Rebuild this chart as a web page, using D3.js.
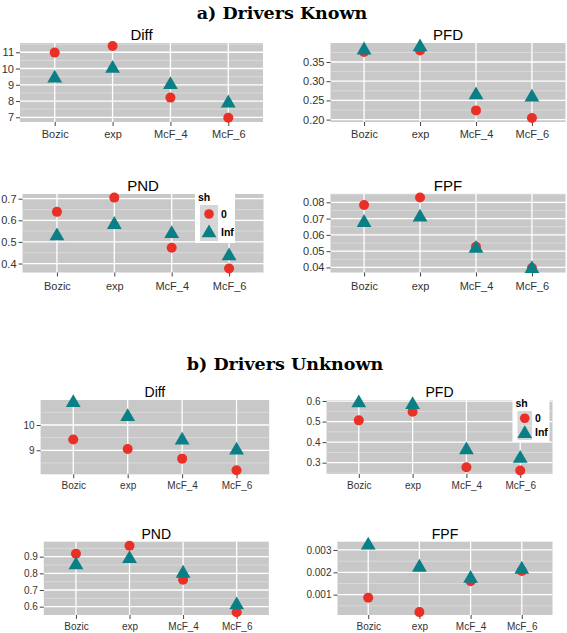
<!DOCTYPE html>
<html><head><meta charset="utf-8">
<script src="https://cdn.jsdelivr.net/npm/d3@7/dist/d3.min.js"></script>
<style>body{margin:0;background:#fff}svg{display:block}</style>
</head><body>
<svg id="c" width="567" height="633"></svg>
<script>
// ---- data ----
const categories = ["Bozic", "exp", "McF_4", "McF_6"];
const seriesNames = ["0", "Inf"];

const knownDiff0   = [10.98, 11.39, 8.21, 6.97];
const knownDiffInf = [9.40, 10.00, 9.00, 7.87];
const knownPFD0    = [0.376, 0.380, 0.224, 0.204];
const knownPFDInf  = [0.381, 0.389, 0.264, 0.258];
const knownPND0    = [0.639, 0.705, 0.473, 0.377];
const knownPNDInf  = [0.527, 0.580, 0.538, 0.435];
const knownFPF0    = [0.0783, 0.0829, 0.0527, 0.0396];
const knownFPFInf  = [0.0675, 0.0708, 0.0516, 0.0392];

const unkDiff0   = [9.43, 9.05, 8.67, 8.21];
const unkDiffInf = [10.88, 10.33, 9.40, 9.00];
const unkPFD0    = [0.506, 0.548, 0.278, 0.262];
const unkPFDInf  = [0.590, 0.582, 0.362, 0.320];
const unkPND0    = [0.918, 0.966, 0.762, 0.566];
const unkPNDInf  = [0.850, 0.888, 0.800, 0.610];
const unkFPF0    = [0.00086, 0.00022, 0.00160, 0.00206];
const unkFPFInf  = [0.00321, 0.00222, 0.00172, 0.00213];

const ticksDiffA = [7, 8, 9, 10, 11];
const ticksPFDA  = [0.20, 0.25, 0.30, 0.35];
const ticksPNDA  = [0.4, 0.5, 0.6, 0.7];
const ticksFPFA  = [0.04, 0.05, 0.06, 0.07, 0.08];
const ticksDiffB = [9, 10];
const ticksPFDB  = [0.3, 0.4, 0.5, 0.6];
const ticksPNDB  = [0.6, 0.7, 0.8, 0.9];
const ticksFPFB  = [0.001, 0.002, 0.003];

// ---- layout / styling ----
const RED = "#ea2f27", TEAL = "#0b7f86";
const panels = [
  {title:"Diff", s0:knownDiff0, s1:knownDiffInf, ticks:ticksDiffA, fmt:d3.format("d"),   dom:[6.71, 11.57], x:[20, 263], y:[43, 122], fs:11, tfs:15, tb:40,  lb:138},
  {title:"PFD",  s0:knownPFD0,  s1:knownPFDInf,  ticks:ticksPFDA,  fmt:d3.format(".2f"), dom:[0.1938, 0.3995], x:[330.5, 565.5], y:[43, 122], fs:11, tfs:15, tb:40, lb:138},
  {title:"PND",  s0:knownPND0,  s1:knownPNDInf,  ticks:ticksPNDA,  fmt:d3.format(".1f"), dom:[0.3585, 0.7217], x:[22.5, 263.5], y:[194, 272.5], fs:11, tfs:15, tb:191, lb:290, legend:{x:195, y:191, w:40, h:52}},
  {title:"FPF",  s0:knownFPF0,  s1:knownFPFInf,  ticks:ticksFPFA,  fmt:d3.format(".2f"), dom:[0.0369, 0.0851], x:[330.5, 565.5], y:[194, 272.5], fs:11, tfs:15, tb:191, lb:290},
  {title:"Diff", s0:unkDiff0,   s1:unkDiffInf,   ticks:ticksDiffB, fmt:d3.format("d"),   dom:[8.05, 10.99], x:[40.6, 269.2], y:[400, 474.3], fs:10, tfs:14, tb:397, lb:489},
  {title:"PFD",  s0:unkPFD0,    s1:unkPFDInf,    ticks:ticksPFDB,  fmt:d3.format(".1f"), dom:[0.245, 0.605], x:[326.5, 552.5], y:[400, 474], fs:10, tfs:14, tb:397, lb:489, legend:{x:512.5, y:397, w:37, h:45}},
  {title:"PND",  s0:unkPND0,    s1:unkPNDInf,    ticks:ticksPNDB,  fmt:d3.format(".1f"), dom:[0.55, 0.99], x:[43.8, 268.8], y:[541.7, 615], fs:10, tfs:14, tb:539, lb:630},
  {title:"FPF",  s0:unkFPF0,    s1:unkFPFInf,    ticks:ticksFPFB,  fmt:d3.format(".3f"), dom:[0.00009, 0.00337], x:[337.5, 552.5], y:[541.7, 615], fs:10, tfs:14, tb:539, lb:630}
];

const svg = d3.select("#c");
const SANS = "'Liberation Sans', Arial, sans-serif";

svg.append("text").attr("x", 282).attr("y", 19).attr("text-anchor", "middle")
  .style("font-family", "'DejaVu Serif', serif").style("font-weight", "bold").style("font-size", "17.5px")
  .text("a) Drivers Known");
svg.append("text").attr("x", 285).attr("y", 370).attr("text-anchor", "middle")
  .style("font-family", "'DejaVu Serif', serif").style("font-weight", "bold").style("font-size", "17.5px")
  .text("b) Drivers Unknown");

const tri = d3.symbol().type(d3.symbolTriangle).size(95);

panels.forEach(p => {
  const g = svg.append("g");
  const x = d3.scalePoint().domain(categories).range(p.x).padding(0.6);
  const y = d3.scaleLinear().domain(p.dom).range([p.y[1], p.y[0]]);
  const W = p.x[1] - p.x[0], H = p.y[1] - p.y[0];

  g.append("rect").attr("x", p.x[0]).attr("y", p.y[0]).attr("width", W).attr("height", H).attr("fill", "#c8c8c8");

  // minor grid
  const step = p.ticks[1] - p.ticks[0];
  const minors = [];
  for (let i = -1; i < p.ticks.length; i++) {
    const v = p.ticks[0] + (i + 0.5) * step;
    if (v > p.dom[0] && v < p.dom[1]) minors.push(v);
  }
  g.selectAll(".mn").data(minors).join("line")
    .attr("x1", p.x[0]).attr("x2", p.x[1]).attr("y1", d => y(d)).attr("y2", d => y(d))
    .attr("stroke", "#dedede").attr("stroke-width", 0.8);
  // major grid
  g.selectAll(".mj").data(p.ticks).join("line")
    .attr("x1", p.x[0]).attr("x2", p.x[1]).attr("y1", d => y(d)).attr("y2", d => y(d))
    .attr("stroke", "#fff").attr("stroke-width", 1.3);
  g.selectAll(".vg").data(categories).join("line")
    .attr("x1", d => x(d)).attr("x2", d => x(d)).attr("y1", p.y[0]).attr("y2", p.y[1])
    .attr("stroke", "#fff").attr("stroke-width", 1.3);

  // axes
  const ya = g.append("g").attr("transform", `translate(${p.x[0]},0)`)
    .call(d3.axisLeft(y).tickValues(p.ticks).tickFormat(p.fmt).tickSize(4).tickPadding(2));
  const xa = g.append("g").attr("transform", `translate(0,${p.y[1]})`)
    .call(d3.axisBottom(x).tickSize(4).tickPadding(p.lb - p.y[1] - 4 - p.fs * 0.72));
  [ya, xa].forEach(a => {
    a.select(".domain").remove();
    a.selectAll("line").attr("stroke", "#444");
    a.selectAll("text").attr("fill", "#333").style("font-family", SANS).style("font-size", p.fs + "px");
  });
  xa.selectAll("text").attr("dy", "0.72em");

  g.append("text").attr("x", (p.x[0] + p.x[1]) / 2).attr("y", p.tb).attr("text-anchor", "middle")
    .style("font-family", SANS).style("font-size", p.tfs + "px").attr("fill", "#000").text(p.title);

  const pts = g.append("g");
  pts.selectAll(".c").data(p.s0).join("circle")
    .attr("cx", (d, i) => x(categories[i])).attr("cy", d => y(d)).attr("r", 5).attr("fill", RED);
  pts.selectAll(".t").data(p.s1).join("path")
    .attr("d", tri).attr("transform", (d, i) => `translate(${x(categories[i])},${y(d)})`).attr("fill", TEAL);

  if (p.legend) {
    const L = p.legend;
    const lg = svg.append("g").attr("transform", `translate(${L.x},${L.y})`);
    lg.append("rect").attr("width", L.w).attr("height", L.h).attr("fill", "#fff");
    lg.append("text").attr("x", 3).attr("y", 10).style("font-family", SANS).style("font-weight", "bold")
      .style("font-size", "10.5px").text("sh");
    const kh = (L.h - 16) / 2;
    seriesNames.forEach((s, i) => {
      const ky = 14 + i * kh;
      lg.append("rect").attr("x", 5).attr("y", ky).attr("width", kh).attr("height", kh).attr("fill", "#d6d6d6");
      if (i === 0) lg.append("circle").attr("cx", 5 + kh / 2).attr("cy", ky + kh / 2).attr("r", 4.8).attr("fill", RED);
      else lg.append("path").attr("d", tri).attr("transform", `translate(${5 + kh / 2},${ky + kh / 2 + 1})`).attr("fill", TEAL);
      lg.append("text").attr("x", 8 + kh).attr("y", ky + kh / 2 + 3.5).style("font-family", SANS)
        .style("font-weight", "bold").style("font-size", "10.5px").text(s);
    });
  }
});
</script>
</body></html>
